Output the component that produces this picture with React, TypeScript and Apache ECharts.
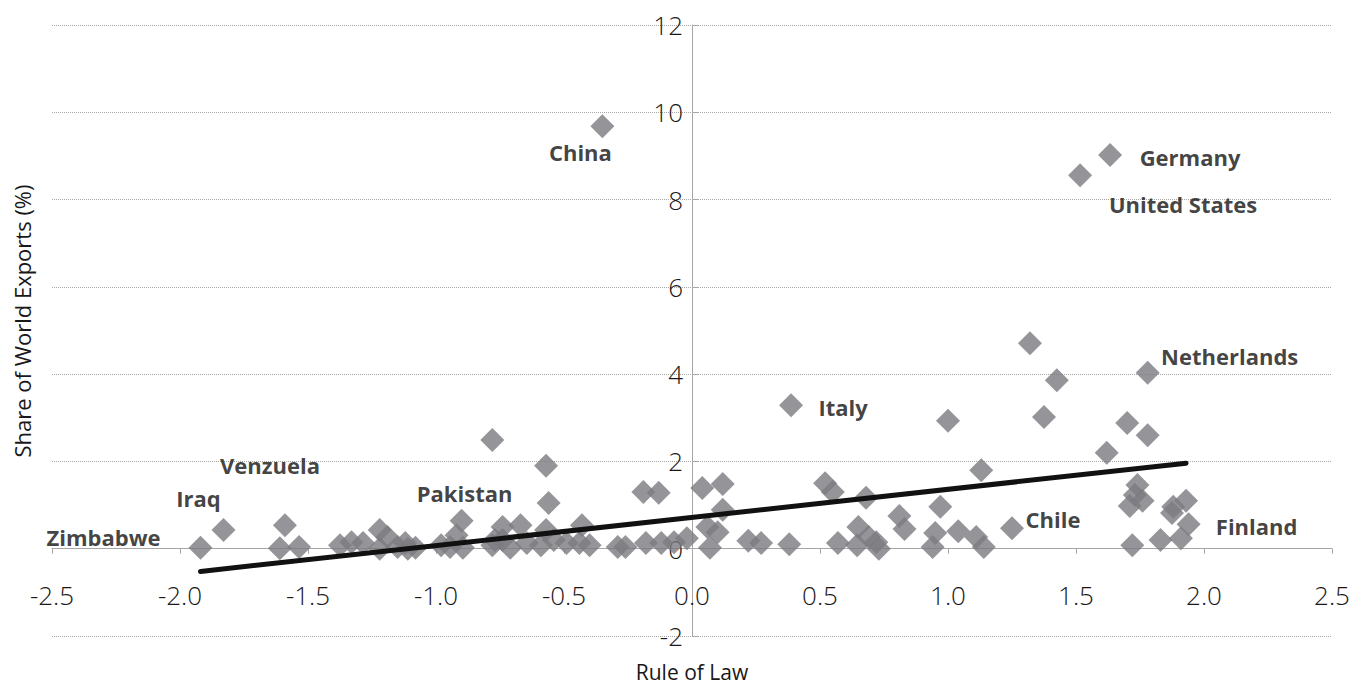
import React, { useEffect, useRef } from "react";
import * as echarts from "echarts";

// Unlabelled countries: Rule of Law index vs share of world exports (%)
const ruleOfLaw = [
  -1.61, -1.535, -1.375, -1.33, -1.285, -1.22, -1.19, -1.22, -1.15, -1.12,
  -1.08, -1.11, -0.98, -0.945, -0.92, -0.895, -0.78, -0.74, -0.71, -0.74,
  -0.67, -0.78, -0.57, -0.56, -0.77, -0.645, -0.57, -0.54, -0.59, -0.43,
  -0.44, -0.49, -0.4, -0.29, -0.26, -0.19, -0.13, -0.18, -0.12, -0.07,
  -0.02, 0.04, 0.12, 0.12, 0.06, 0.1, 0.07, 0.22, 0.27, 0.38,
  0.52, 0.55, 0.57, 0.65, 0.645, 0.68, 0.72, 0.73, 0.69, 0.81,
  0.83, 0.94, 0.95, 0.97, 1.0, 1.04, 1.11, 1.14, 1.13, 1.32,
  1.375, 1.425, 1.62, 1.7, 1.78, 1.74, 1.73, 1.71, 1.76, 1.72,
  1.83, 1.88, 1.93, 1.875, 1.91,
];
const exportShare = [
  0.01, 0.04, 0.08, 0.15, 0.13, 0.43, 0.27, 0.0, 0.04, 0.13,
  0.02, 0.0, 0.08, 0.04, 0.31, 0.02, 0.08, 0.2, 0.02, 0.5,
  0.54, 2.49, 1.9, 1.05, 0.2, 0.13, 0.43, 0.2, 0.08, 0.54,
  0.13, 0.13, 0.08, 0.04, 0.04, 1.3, 1.28, 0.13, 0.13, 0.15,
  0.24, 1.39, 1.48, 0.89, 0.5, 0.38, 0.02, 0.18, 0.13, 0.1,
  1.5, 1.3, 0.13, 0.5, 0.08, 1.17, 0.15, 0.0, 0.27, 0.75,
  0.45, 0.04, 0.36, 0.96, 2.93, 0.4, 0.27, 0.04, 1.8, 4.71,
  3.02, 3.86, 2.2, 2.88, 2.6, 1.46, 1.23, 0.98, 1.1, 0.08,
  0.2, 0.96, 1.1, 0.82, 0.24,
];

// Labelled countries
const labeledCountries = [
  "China", "Germany", "United States", "Netherlands", "Italy",
  "Venzuela", "Iraq", "Pakistan", "Zimbabwe", "Chile", "Finland",
];
const labeledRuleOfLaw = [-0.35, 1.633, 1.516, 1.78, 0.387, -1.59, -1.83, -0.9, -1.92, 1.25, 1.94];
const labeledExportShare = [9.68, 9.02, 8.56, 4.03, 3.29, 0.54, 0.43, 0.64, 0.02, 0.47, 0.56];

// Linear trend line end points
const trendRuleOfLaw = [-1.92, 1.93];
const trendExportShare = [-0.52, 1.96];

// Label placement (pixels, relative to the marker centre)
const labelOffsets: Record<string, [number, number]> = {
  China: [-22, 26],
  Germany: [80, 2],
  "United States": [103, 29],
  Netherlands: [82, -17],
  Italy: [52, 2],
  Venzuela: [-15, -60],
  Iraq: [-25, -32],
  Pakistan: [3, -28],
  Zimbabwe: [-97, -11],
  Chile: [41, -9],
  Finland: [68, 2],
};

const MARKER = "#7a7b7f";
const TEXT = "#1a1718";
const AXIS = "#a6a6a6";
const FONT = "'Open Sans', 'Noto Sans', sans-serif";

const GRID = { left: 52, right: 34, top: 25, bottom: 55 };
const X_MIN = -2.5, X_MAX = 2.5, Y_MIN = -2, Y_MAX = 12;

export default function App() {
  const ref = useRef<HTMLDivElement>(null);

  useEffect(() => {
    if (!ref.current) return;
    const chart = echarts.init(ref.current, undefined, { renderer: "svg" });
    const W = 1366, H = 691;
    const gw = W - GRID.left - GRID.right;
    const gh = H - GRID.top - GRID.bottom;
    // move axes so that they cross at (0, 0)
    const xAxisOffset = -(gh * (0 - Y_MIN)) / (Y_MAX - Y_MIN);
    const yAxisOffset = -(gw * (0 - X_MIN)) / (X_MAX - X_MIN);

    const points = ruleOfLaw.map((x, i) => [x, exportShare[i]]);
    const labeled = labeledCountries.map((name, i) => ({
      name,
      value: [labeledRuleOfLaw[i], labeledExportShare[i]],
      label: {
        show: true,
        formatter: name,
        position: "inside",
        offset: labelOffsets[name],
        color: "#111",
        textBorderWidth: 0,
        textBorderColor: "transparent",
      },
    }));
    const trend = trendRuleOfLaw.map((x, i) => [x, trendExportShare[i]]);

    chart.setOption({
      animation: false,
      backgroundColor: "#ffffff",
      textStyle: { fontFamily: FONT },
      grid: { ...GRID, containLabel: false },
      xAxis: {
        type: "value",
        min: X_MIN,
        max: X_MAX,
        interval: 0.5,
        position: "bottom",
        offset: xAxisOffset,
        axisLine: { show: true, onZero: false, lineStyle: { color: AXIS, width: 1 } },
        axisTick: { show: true, length: 5, lineStyle: { color: AXIS } },
        axisLabel: {
          margin: 33,
          fontSize: 26,
          fontWeight: 300,
          color: TEXT,
          fontFamily: FONT,
          formatter: (v: number) => v.toFixed(1),
        },
        splitLine: { show: false },
      },
      yAxis: {
        type: "value",
        min: Y_MIN,
        max: Y_MAX,
        interval: 2,
        position: "left",
        offset: yAxisOffset,
        axisLine: { show: true, onZero: false, lineStyle: { color: AXIS, width: 1 } },
        axisTick: { show: true, inside: true, length: 6, lineStyle: { color: AXIS } },
        axisLabel: {
          margin: 9,
          fontSize: 26,
          fontWeight: 300,
          color: TEXT,
          fontFamily: FONT,
        },
        splitLine: { show: true, lineStyle: { color: AXIS, type: "dotted", width: 1 } },
      },
      series: [
        {
          type: "scatter",
          data: points,
          symbol: "diamond",
          symbolSize: 24,
          itemStyle: { color: MARKER },
          z: 2,
        },
        {
          type: "scatter",
          data: labeled,
          symbol: "diamond",
          symbolSize: 24,
          itemStyle: { color: MARKER },
          label: {
            fontSize: 22,
            fontWeight: "bold",
            color: "#111",
            fontFamily: FONT,
            textBorderWidth: 0,
          },
          z: 2,
        },
        {
          type: "line",
          data: trend,
          showSymbol: false,
          symbol: "none",
          lineStyle: { color: "#111111", width: 5, cap: "round" },
          z: 5,
        },
      ],
      graphic: [
        {
          type: "text",
          x: 22,
          y: 321,
          rotation: Math.PI / 2,
          style: {
            text: "Share of World Exports (%)",
            fill: TEXT,
            font: `22px ${FONT}`,
            textAlign: "center",
            textVerticalAlign: "middle",
            align: "center",
            verticalAlign: "middle",
          },
        },
        {
          type: "text",
          x: 692,
          y: 672,
          style: {
            text: "Rule of Law",
            fill: TEXT,
            font: `21px ${FONT}`,
            textAlign: "center",
            textVerticalAlign: "middle",
            align: "center",
            verticalAlign: "middle",
          },
        },
      ],
    });

    return () => chart.dispose();
  }, []);

  return (
    <div
      ref={ref}
      style={{ position: "fixed", left: 0, top: 0, width: 1366, height: 691, background: "#fff" }}
    />
  );
}
